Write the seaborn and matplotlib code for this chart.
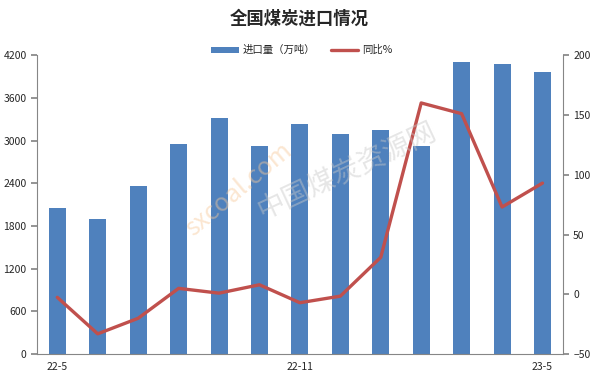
import numpy as np
import pandas as pd
import matplotlib
matplotlib.use("Agg")
import matplotlib.pyplot as plt
from matplotlib.patches import Patch
from matplotlib.lines import Line2D
import seaborn as sns

sns.set_theme(style="white")
plt.rcParams["font.family"] = ["Noto Sans CJK SC", "DejaVu Sans"]

# ---------- data ----------
months = ["22-5", "22-6", "22-7", "22-8", "22-9", "22-10", "22-11",
          "22-12", "23-1", "23-2", "23-3", "23-4", "23-5"]
volume = [2050, 1900, 2360, 2950, 3310, 2920, 3230, 3090, 3150, 2920, 4110, 4070, 3960]
yoy = [-2.5, -33, -20, 5, 1, 8, -7, -1.5, 31, 160, 151, 73, 93]
shown_labels = ["22-5", "22-11", "23-5"]

BAR = "#4F81BD"
LINE = "#C0504D"
AXC = "#868686"

df = pd.DataFrame({"month": months, "volume": volume, "yoy": yoy})

fig = plt.figure(figsize=(5.98, 3.8), dpi=100)
ax = fig.add_axes([0.062, 0.068, 0.879, 0.787])

sns.barplot(data=df, x="month", y="volume", color=BAR, width=0.42,
            saturation=1, edgecolor="none", linewidth=0, ax=ax)
ax.set_xlim(-0.5, len(months) - 0.5)
ax.set_ylim(0, 4200)
ax.set_yticks(np.arange(0, 4201, 600))
ax.set_xlabel("")
ax.set_ylabel("")

# x ticks: labels every 6 months, tick marks on category boundaries
pos = [months.index(m) for m in shown_labels]
ax.set_xticks(pos)
ax.set_xticklabels(shown_labels)
ax.tick_params(axis="x", length=0, labelsize=7.5, pad=6)
ax.set_xticks([p - 0.5 for p in pos], minor=True)
ax.tick_params(axis="x", which="minor", length=4, color=AXC, direction="out")
ax.tick_params(axis="y", length=4, color=AXC, labelsize=7.5, direction="out", left=True)

ax2 = ax.twinx()
sns.lineplot(x=np.arange(len(months)), y=df["yoy"], color=LINE, linewidth=2.4, ax=ax2)
ax2.set_ylim(-50, 200)
ax2.set_yticks(np.arange(-50, 201, 50))
ax2.set_ylabel("")
ax2.tick_params(axis="y", length=4, color=AXC, labelsize=7.5, direction="out", right=True)

for a in (ax, ax2):
    for s in a.spines.values():
        s.set_visible(False)
    a.grid(False)
ax.spines["left"].set_visible(True)
ax.spines["bottom"].set_visible(True)
ax2.spines["right"].set_visible(True)
for s in (ax.spines["left"], ax.spines["bottom"], ax2.spines["right"]):
    s.set_color(AXC)
    s.set_linewidth(0.8)

# faint watermark
fig.text(0.58, 0.55, "中国煤炭资源网", fontsize=20, color="#c8c8c8", alpha=0.45,
         rotation=25, ha="center", va="center", zorder=0)
fig.text(0.4, 0.5, "sxcoal.com", fontsize=18, color="#f7c99a", alpha=0.45,
         rotation=40, ha="center", va="center", zorder=0)

fig.suptitle("全国煤炭进口情况", x=0.5, y=0.975, fontsize=12.5, fontweight="bold")

handles = [Patch(facecolor=BAR, edgecolor="none", label="进口量（万吨）"),
           Line2D([0], [0], color=LINE, lw=2.4, label="同比%")]
fig.legend(handles=handles, loc="center", bbox_to_anchor=(0.505, 0.868), ncol=2,
           frameon=False, fontsize=7.5, handlelength=2.6, handleheight=0.5,
           columnspacing=1.5, handletextpad=0.4)

fig.savefig("out.png", dpi=100)
